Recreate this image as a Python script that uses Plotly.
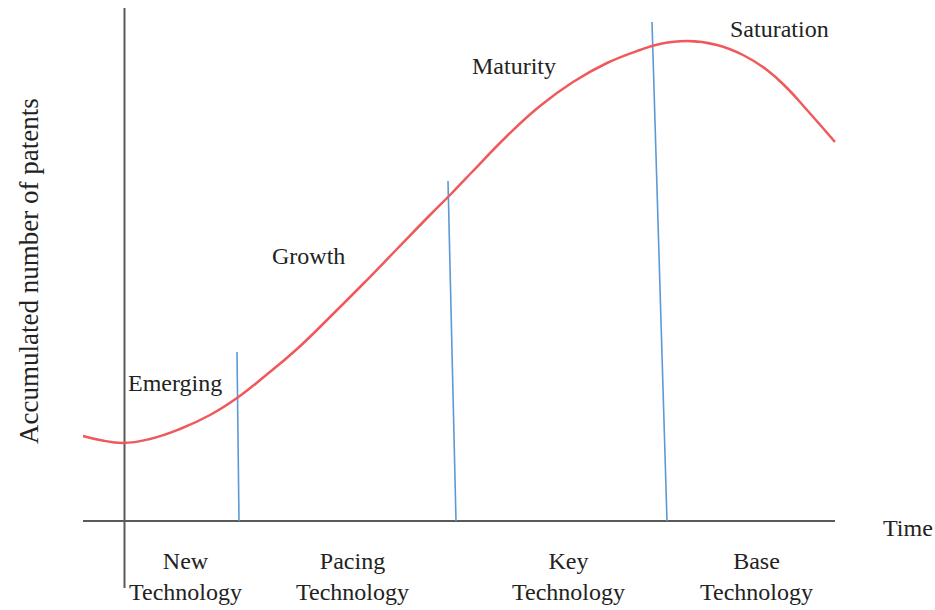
import plotly.graph_objects as go

# life-cycle curve (time vs accumulated patents, arbitrary units)
time_pts = [-4.1, -2.4, -0.1, 2.6, 5.6, 8.6, 11.3, 14.1, 17.3, 20.6, 23.9, 27.3, 30.6, 32.6,
            34.9, 38.3, 41.6, 44.9, 48.3, 51.6, 53.6, 56.3, 59.3, 61.9, 64.3, 66.3, 68.3, 71.1]
patents_pts = [8.5, 8.1, 7.8, 8.2, 9.2, 10.6, 12.3, 14.5, 17.2, 20.4, 23.7, 27.2, 30.6, 32.6,
               35.0, 38.5, 41.5, 43.9, 45.8, 47.1, 47.7, 48.0, 47.6, 46.6, 45.1, 43.3, 41.1, 37.9]

# stage boundaries (slightly slanted lines: top point -> bottom point)
boundary_x_top = [11.3, 32.4, 52.8]
boundary_x_bottom = [11.5, 33.2, 54.3]
boundary_y_top = [16.9, 34.0, 49.9]

# axis extents
time_axis = [-4.1, 71.1]
patents_axis = [-6.7, 51.3]

stage_labels = ["Emerging", "Growth", "Maturity", "Saturation"]
tech_labels = ["New<br>Technology", "Pacing<br>Technology", "Key<br>Technology", "Base<br>Technology"]

FONT = "Liberation Serif, Times New Roman, serif"

fig = go.Figure()

# axes
fig.add_trace(go.Scatter(x=time_axis, y=[0, 0], mode="lines",
                         line=dict(color="#5a5a5a", width=2), hoverinfo="skip"))
fig.add_trace(go.Scatter(x=[0.05, 0.05], y=patents_axis, mode="lines",
                         line=dict(color="#5a5a5a", width=2), hoverinfo="skip"))

# boundaries
for xt, xb, yt in zip(boundary_x_top, boundary_x_bottom, boundary_y_top):
    fig.add_trace(go.Scatter(x=[xt, xb], y=[yt, 0], mode="lines",
                             line=dict(color="#5b9bd5", width=1.6), hoverinfo="skip"))

# curve
fig.add_trace(go.Scatter(x=time_pts, y=patents_pts, mode="lines",
                         line=dict(color="#f0595c", width=2.5, shape="spline", smoothing=1.3),
                         hoverinfo="skip"))

# stage labels
stage_pos = [(5.1, 13.8), (18.4, 26.5), (39.0, 45.5), (65.5, 49.2)]
for text, (x, y) in zip(stage_labels, stage_pos):
    fig.add_annotation(x=x, y=y, text=text, showarrow=False,
                       font=dict(family=FONT, size=24, color="#222222"))

# technology labels below the time axis
tech_x = [6.1, 22.8, 44.4, 63.2]
for text, x in zip(tech_labels, tech_x):
    fig.add_annotation(x=x, y=-5.5, text=text, showarrow=False,
                       font=dict(family=FONT, size=24, color="#222222"))

fig.add_annotation(x=78.4, y=-0.7, text="Time", showarrow=False,
                   font=dict(family=FONT, size=24, color="#222222"))
fig.add_annotation(x=-9.5, y=25.0, text="Accumulated number of patents", showarrow=False,
                   textangle=-90, font=dict(family=FONT, size=27, color="#222222"))

fig.update_layout(
    width=935,
    height=610,
    autosize=False,
    margin=dict(l=0, r=0, t=0, b=0),
    paper_bgcolor="white",
    plot_bgcolor="white",
    showlegend=False,
    xaxis=dict(range=[-12.4, 81.1], visible=False, fixedrange=True),
    yaxis=dict(range=[-8.9, 52.1], visible=False, fixedrange=True),
)

# drop the default page margin so the figure fills the window
fig.write_html("out.html", config={"displayModeBar": False},
               post_script="document.body.style.margin='0';")
